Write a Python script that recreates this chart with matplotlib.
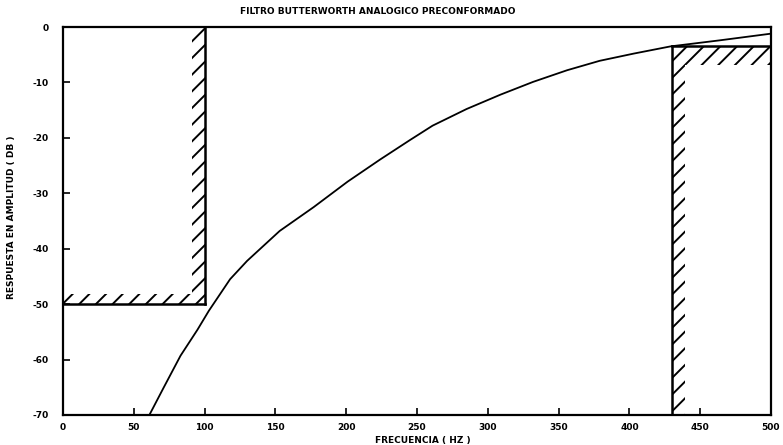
import matplotlib.pyplot as plt
from matplotlib.patches import Rectangle

# curve (Hz, dB)
freq = [61, 71, 83, 95, 103, 118, 130, 153, 177, 201, 224, 245, 261, 285,
        309, 332, 356, 379, 403, 429, 464, 500]
resp = [-70, -65.1, -59.3, -54.6, -51.2, -45.5, -42.2, -36.8, -32.5, -27.9,
        -23.9, -20.4, -17.8, -14.8, -12.2, -9.9, -7.8, -6.1, -4.8, -3.5,
        -2.4, -1.2]

# template limits
stop_edge = 100
stop_att = -50
pass_edge = 430
pass_ripple = -3.5

xticks = [0, 50, 100, 150, 200, 250, 300, 350, 400, 450, 500]
yticks = [0, -10, -20, -30, -40, -50, -60, -70]

plt.rcParams['hatch.linewidth'] = 1.4
plt.rcParams['hatch.color'] = 'black'

fig = plt.figure(figsize=(7.83, 4.45), dpi=100)
ax = fig.add_axes([63/783, 30/445, 708/783, 388/445])

ax.plot(freq, resp, color='black', lw=1.3)

# stopband template
ax.plot([stop_edge, stop_edge], [stop_att, 0], color='black', lw=1.8)
ax.plot([0, stop_edge], [stop_att, stop_att], color='black', lw=1.8)
ax.add_patch(Rectangle((stop_edge - 9, stop_att), 9, -stop_att,
                       fill=False, hatch='//', edgecolor='black', lw=0))
ax.add_patch(Rectangle((0, stop_att), stop_edge - 9, 1.8,
                       fill=False, hatch='//', edgecolor='black', lw=0))

# passband template
ax.plot([pass_edge, pass_edge], [-70, pass_ripple], color='black', lw=1.8)
ax.plot([pass_edge, 500], [pass_ripple, pass_ripple], color='black', lw=1.8)
ax.add_patch(Rectangle((pass_edge, -70), 9, 70 + pass_ripple,
                       fill=False, hatch='//', edgecolor='black', lw=0))
ax.add_patch(Rectangle((pass_edge + 9, pass_ripple - 3.3), 500 - pass_edge - 9, 3.3,
                       fill=False, hatch='//', edgecolor='black', lw=0))

ax.set_xlim(0, 500)
ax.set_ylim(-70, 0)
ax.set_xticks(xticks)
ax.set_yticks(yticks)
ax.set_xticklabels([str(t) for t in xticks], fontsize=6.5, fontweight='bold')
ax.set_yticklabels([str(t) for t in yticks], fontsize=6.5, fontweight='bold')
ax.tick_params(direction='in', length=5, width=1.2)
ax.tick_params(axis='y', pad=10)
ax.tick_params(axis='x', pad=6)
for s in ax.spines.values():
    s.set_linewidth(1.6)

fig.text(378/783, 1 - 12/445, 'FILTRO BUTTERWORTH ANALOGICO PRECONFORMADO',
         ha='center', va='center', fontsize=6.5, fontweight='bold')
fig.text(423/783, 1 - 440/445, 'FRECUENCIA ( HZ )',
         ha='center', va='center', fontsize=6.5, fontweight='bold')
fig.text(12/783, 1 - 217/445, 'RESPUESTA EN AMPLITUD ( DB )', rotation=90,
         ha='center', va='center', fontsize=6.5, fontweight='bold')

plt.savefig('out.png', dpi=100)
plt.close()
